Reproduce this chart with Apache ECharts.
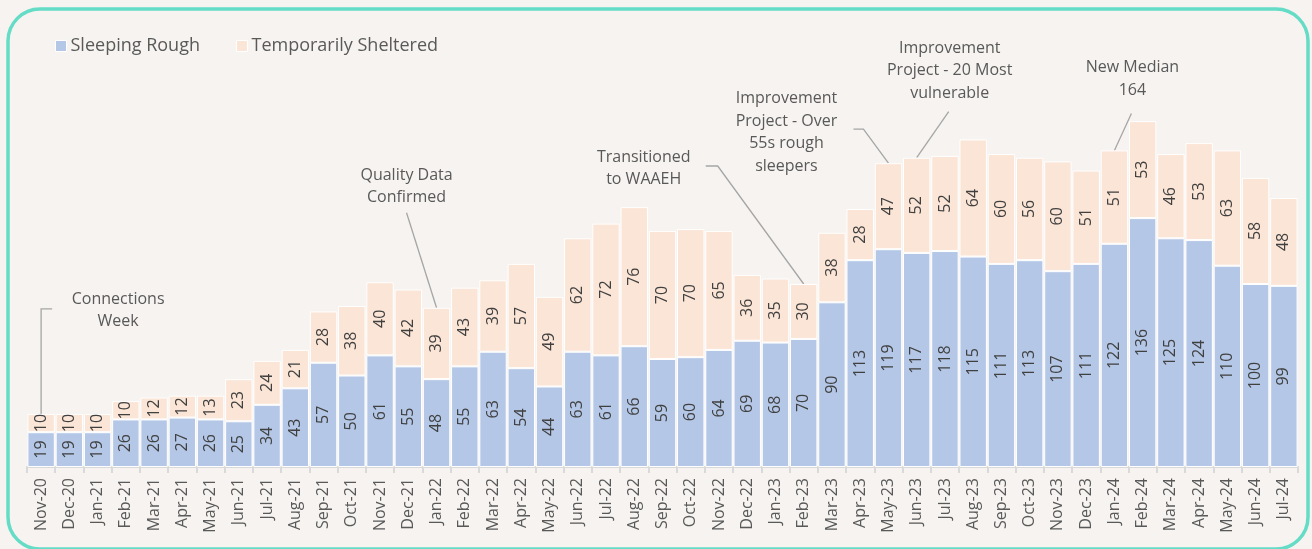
<!DOCTYPE html>
<html>
<head>
<meta charset="utf-8">
<script src="https://cdn.jsdelivr.net/npm/echarts@6/dist/echarts.min.js"></script>
<style>
  html, body { margin: 0; padding: 0; background: #f6f3f0; }
  #main { width: 1312px; height: 549px; }
</style>
</head>
<body>
<div id="main"></div>
<script>
// months shown on the x axis
let months = ['Nov-20','Dec-20',
  'Jan-21','Feb-21','Mar-21','Apr-21','May-21','Jun-21','Jul-21','Aug-21','Sep-21','Oct-21','Nov-21','Dec-21',
  'Jan-22','Feb-22','Mar-22','Apr-22','May-22','Jun-22','Jul-22','Aug-22','Sep-22','Oct-22','Nov-22','Dec-22',
  'Jan-23','Feb-23','Mar-23','Apr-23','May-23','Jun-23','Jul-23','Aug-23','Sep-23','Oct-23','Nov-23','Dec-23',
  'Jan-24','Feb-24','Mar-24','Apr-24','May-24','Jun-24','Jul-24']

let sleepingRough = [19,19,19,26,26,27,26,25,34,43,57,50,61,55,48,55,63,54,44,63,61,66,59,60,64,69,68,70,
  90,113,119,117,118,115,111,113,107,111,122,136,125,124,110,100,99]

let tempSheltered = [10,10,10,10,12,12,13,23,24,21,28,38,40,42,39,43,39,57,49,62,72,76,70,70,65,36,35,30,
  38,28,47,52,52,64,60,56,60,51,51,53,46,53,63,58,48]

// callouts: which month they point at, and the text
let notes = [
  {month:'Nov-20', text:'Connections\nWeek'},
  {month:'Jan-22', text:'Quality Data\nConfirmed'},
  {month:'Feb-23', text:'Transitioned\nto WAAEH'},
  {month:'May-23', text:'Improvement\nProject - Over\n55s rough\nsleepers'},
  {month:'Jun-23', text:'Improvement\nProject - 20 Most\nvulnerable'},
  {month:'Jan-24', text:'New Median\n164'}
]

let dom = document.getElementById('main')
let myChart = echarts.init(dom)

let FONT = '"Open Sans", "Noto Sans", sans-serif'

let segLabel = {
  show: true,
  position: 'inside',
  rotate: 90,
  color: '#404040',
  fontSize: 16,
  fontFamily: FONT
}

let option = {
  animation: false,
  backgroundColor: '#f6f3f0',
  legend: {
    left: 50,
    top: 32,
    itemWidth: 11,
    itemHeight: 11,
    itemGap: 36,
    icon: 'rect',
    itemStyle: {borderColor: '#fff', borderWidth: 1},
    textStyle: {color: '#595959', fontSize: 18, fontFamily: FONT, padding: [0,0,0,-1]},
    data: ['Sleeping Rough', 'Temporarily Sheltered']
  },
  grid: {
    left: 27,
    right: 14,
    top: 101,
    bottom: 82
  },
  xAxis: {
    type: 'category',
    data: months,
    axisLine: {lineStyle: {color: '#d9d9d9', width: 2}},
    axisTick: {show: true, length: 6, lineStyle: {color: '#d9d9d9', width: 2}},
    axisLabel: {
      rotate: 90,
      interval: 0,
      color: '#595959',
      fontSize: 16,
      fontFamily: FONT,
      margin: 11
    }
  },
  yAxis: {
    type: 'value',
    min: 0,
    max: 200,
    show: false,
    splitLine: {show: false}
  },
  series: [
    {
      name: 'Sleeping Rough',
      type: 'bar',
      stack: 'total',
      barCategoryGap: '3%',
      data: sleepingRough,
      itemStyle: {color: '#b4c7e7', borderColor: '#ffffff', borderWidth: 1},
      label: segLabel
    },
    {
      name: 'Temporarily Sheltered',
      type: 'bar',
      stack: 'total',
      barCategoryGap: '3%',
      data: tempSheltered,
      itemStyle: {color: '#fbe5d6', borderColor: '#ffffff', borderWidth: 1},
      label: segLabel
    }
  ]
}

myChart.setOption(option, true)

// place the callouts relative to the top of the bar they point at
// offsets: text centre (tx, ty) from bar top, and the leader path
let calloutLayout = {
  'Nov-20': {tx: 77, ty: -104, path: [[11, -105], [0, -105], [0, 0]]},
  'Jan-22': {tx: -30, ty: -122, path: [[-30, -95], [0, 0]]},
  'Feb-23': {tx: -160, ty: -116, path: [[-98, -118], [-86, -118], [0, 0]]},
  'May-23': {tx: -102, ty: -32, path: [[-35, -34], [-25, -34], [0, 0]]},
  'Jun-23': {tx: 33, ty: -88, path: [[32, -46], [0, 0]]},
  'Jan-24': {tx: 18, ty: -72, path: [[17, -37], [0, 0]]}
}

let graphics = []

// rounded frame
graphics.push({
  type: 'rect',
  silent: true,
  shape: {x: 8, y: 9, width: 1300, height: 540, r: 32},
  style: {fill: 'none', stroke: '#64dcc6', lineWidth: 3.5},
  z: 100
})

notes.forEach(function (n) {
  let i = months.indexOf(n.month)
  let top = sleepingRough[i] + tempSheltered[i]
  let p = myChart.convertToPixel({seriesIndex: 1}, [i, top])
  let lay = calloutLayout[n.month]
  let lines = n.text.split('\n').length
  graphics.push({
    type: 'text',
    silent: true,
    x: p[0] + lay.tx,
    y: p[1] + lay.ty - lines * 11,
    style: {
      text: n.text,
      fill: '#595959',
      font: '16px ' + FONT,
      align: 'center',
      lineHeight: 22.5
    }
  })
  let pts = lay.path.map(function (o) { return [p[0] + o[0], p[1] + o[1]] })
  graphics.push({
    type: 'polyline',
    silent: true,
    shape: {points: pts},
    style: {stroke: '#a6a6a6', lineWidth: 1.3, fill: 'none'}
  })
})

myChart.setOption({graphic: graphics})

window.addEventListener('resize', function () {
  myChart.resize()
})
</script>
</body>
</html>
